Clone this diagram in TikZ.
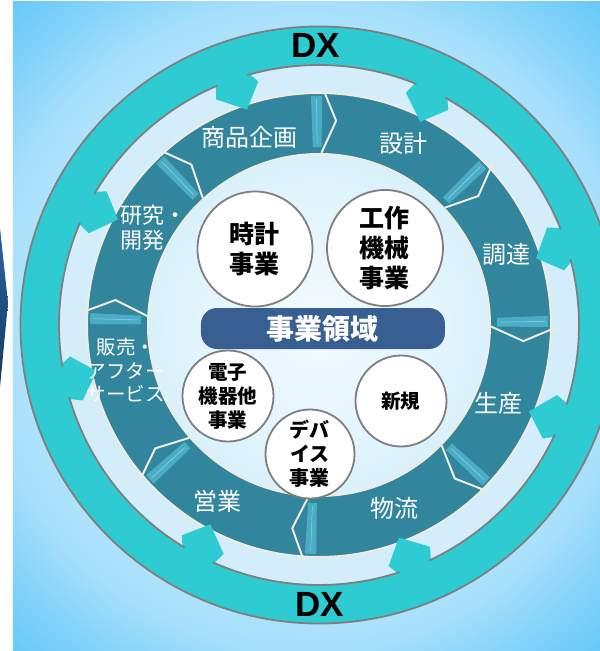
\documentclass[tikz,border=0pt]{standalone}
\usepackage{fontspec}
\newfontfamily\jp{Noto Sans CJK JP}
\newfontfamily\dxfont{Liberation Sans}
\usetikzlibrary{calc}
\definecolor{bandteal}{RGB}{47,203,210}
\definecolor{ringdark}{HTML}{31859C}
\definecolor{stripblue}{HTML}{4BACC6}
\definecolor{cream}{HTML}{EEECE1}
\definecolor{boxblue}{HTML}{375F92}
\definecolor{edgegray}{HTML}{7F7F7F}
\definecolor{sliverA}{HTML}{2C65A0}
\definecolor{sliverB}{HTML}{14385F}
\definecolor{bgA}{HTML}{EEFAFF}
\definecolor{bgB}{HTML}{D8F2FD}
\definecolor{bgC}{HTML}{B8E6FB}
\definecolor{bgD}{HTML}{A6DFFB}
\definecolor{bgE}{HTML}{84D3F9}
\definecolor{bgF}{HTML}{62C8F8}
\definecolor{dA}{HTML}{F4FBFF}
\definecolor{dB}{HTML}{E4F5FD}
\definecolor{dC}{HTML}{D9F1FB}
\definecolor{dD}{HTML}{D3EEFA}
\pgfdeclareradialshading{bgshade}{\pgfpoint{0bp}{0bp}}{color(0bp)=(bgA); color(150bp)=(bgB); color(250bp)=(bgC); color(322bp)=(bgD); color(380bp)=(bgE); color(445bp)=(bgF)}
\pgfdeclareradialshading{diskshade}{\pgfpoint{0bp}{0bp}}{color(0bp)=(dA); color(110bp)=(dB); color(170bp)=(dC); color(232bp)=(dD); color(265bp)=(dD)}
\begin{document}
\begin{tikzpicture}[x=1pt,y=1pt,
  lbl/.style={text=white, font=\jp\fontsize{24}{28}\selectfont, inner sep=0},
  biz/.style={circle, draw=edgegray, line width=1.8, fill=white, inner sep=0, align=center, text=black},
  grayedge/.style={draw=edgegray, line width=1.8},
  creamedge/.style={draw=cream, line width=2},
]
% canvas
\fill[white] (-319,-326) rectangle (281,325);
\useasboundingbox (-319,-326) rectangle (281,325);
\begin{scope}
  \clip (-306,323) rectangle (281,-326);
  \node[inner sep=0, outer sep=0] (bg) at (-12.5,-1.5) {\pgfuseshading{bgshade}};
\end{scope}
\shade[top color=sliverA, bottom color=sliverB] (-319,97) -- (-311,22) -- (-319,-62) -- cycle;
% light disk
\begin{scope}
  \clip (0,0) circle (261);
  \node[inner sep=0, outer sep=0] (disk) at (0,0) {\pgfuseshading{diskshade}};
\end{scope}
% process ring
\fill[ringdark, even odd rule] (0,0) circle (232) (0,0) circle (171);
\draw[creamedge] (0,0) circle (232);
\draw[creamedge] (0,0) circle (171);
\foreach \b in {89.2,43,-0.5,-44.5,-93.5,-139,-183,-227.5}{
  \fill[stripblue] (\b:178) -- (\b:229) arc[start angle=\b, end angle={\b+2.8}, radius=229] -- ({\b+2.8}:178) -- cycle;
  \draw[white, opacity=0.45, line width=0.5] ({\b+1.4}:181) -- ({\b+1.4}:226);
  \draw[cream, line width=2, line join=miter] (\b:238) -- ({\b-4}:205) -- (\b:172);
}
% DX band
\fill[bandteal, even odd rule] (0,0) circle (298.5) (0,0) circle (260);
\foreach \p in {109.5,64.5,18.1,-21.4,-68.4,-117.6,-167.3,-206.7}{
  \fill[bandteal] ({\p+3.5}:264) -- ({\p+5}:248) -- ({\p-1}:227) -- ({\p-5.5}:251) -- ({\p-3.5}:264) -- cycle;
}
\draw[grayedge] (0,0) circle (298.5);
\foreach \a/\c in {109.5/64.5, 64.5/18.1, 18.1/-21.4, -21.4/-68.4, -68.4/-117.6, -117.6/-167.3, -167.3/-206.7, -206.7/-250.5}{
  \draw[grayedge] ({\a-3.5}:260) arc[start angle={\a-3.5}, end angle={\c+3.5}, radius=260];
}
% process labels
\node[lbl] (plan) at (-69,188) {商品企画};
\node[lbl] (design) at (85,182) {設計};
\node[lbl] (procure) at (188,71) {調達};
\node[lbl] (produce) at (179,-78) {生産};
\node[lbl] (logi) at (76,-183) {物流};
\node[lbl] (sales) at (-101,-176) {営業};
\node[lbl, anchor=west, align=left, font=\jp\fontsize{22}{25}\selectfont] (rnd) at (-199,97.5) {研究・\\開発};
\node[lbl, align=center, font=\jp\fontsize{19.5}{23.5}\selectfont] (service) at (-193,-45.5) {販売・\\アフター\\サービス};
% business circles
\node[biz, minimum size=115, font=\jp\bfseries\fontsize{25}{30}\selectfont] (watch) at (-64,76) {時計\\事業};
\node[biz, minimum size=116, font=\jp\bfseries\fontsize{25}{30}\selectfont] (machine) at (66,77) {工作\\機械\\事業};
\node[biz, minimum size=91, font=\jp\bfseries\fontsize{19.5}{24}\selectfont] (elec) at (-91,-71) {電子\\機器他\\事業};
\node[biz, minimum size=89, font=\jp\bfseries\fontsize{20}{24}\selectfont] (device) at (-9,-129) {デバ\\イス\\事業};
\node[biz, minimum size=91, font=\jp\bfseries\fontsize{19.5}{24}\selectfont] (new) at (82,-76) {新規};
% business domain box
\node[fill=boxblue, rounded corners=16, minimum width=244, minimum height=41, inner sep=0, text=white, font=\jp\bfseries\fontsize{28}{32}\selectfont] (domain) at (4,-3.5) {事業領域};
% DX
\node[inner sep=0, font=\dxfont\bfseries\fontsize{35}{40}\selectfont] (dxtop) at (-3,280) {DX};
\node[inner sep=0, font=\dxfont\bfseries\fontsize{35}{40}\selectfont] (dxbot) at (1,-279.5) {DX};
\end{tikzpicture}
\end{document}
